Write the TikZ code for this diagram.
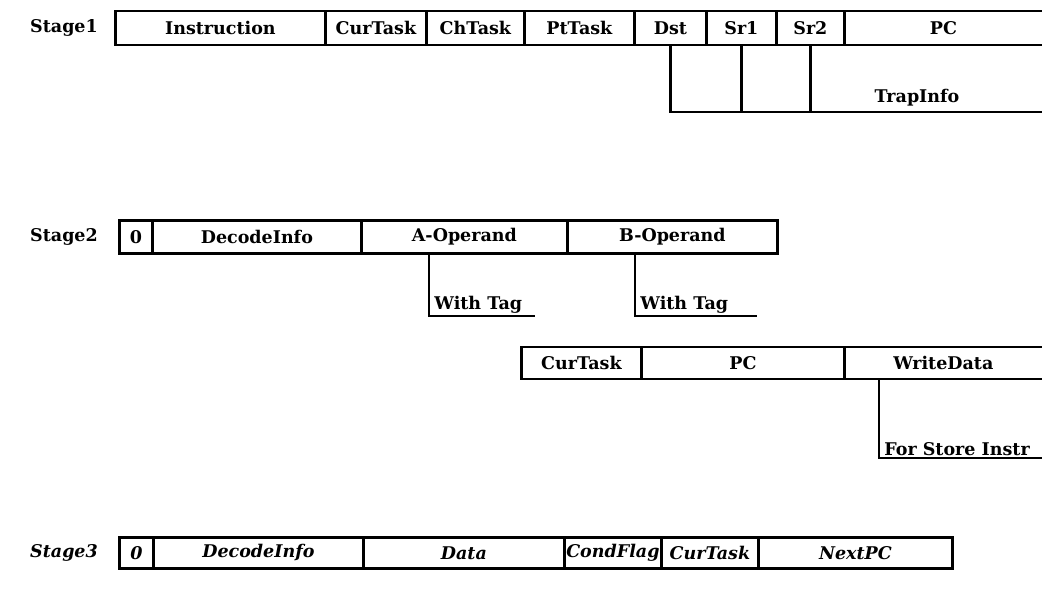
\documentclass[tikz,border=0pt]{standalone}
\usepackage{fontspec}
\setmainfont{DejaVu Serif}
\begin{document}
\begin{tikzpicture}[x=1pt,y=-1pt,line width=2.8pt,
  cell/.style={draw,rectangle,inner sep=0pt,anchor=west,font=\fieldfont},
  lbl/.style={inner sep=0pt,font=\fieldfont},
  lbltag/.style={inner sep=1pt,anchor=south west,font=\fieldfont}]
\newcommand{\fieldfont}{\fontsize{17.5}{20}\selectfont\bfseries}
\newcommand{\slfont}{\fontsize{17.5}{20}\selectfont\bfseries\itshape}
\path[use as bounding box] (0,0) rectangle (1042,594);
\clip (0,0) rectangle (1042,594);
% Stage 1
\node[lbl] (s1) at (64,28) {Stage1};
\node[cell,minimum width=210pt,minimum height=34pt] (instr) at (114,28) {Instruction};
\node[cell,minimum width=101pt,minimum height=34pt] (ct1) at (324,28) {CurTask};
\node[cell,minimum width=98pt,minimum height=34pt] (cht) at (425,28) {ChTask};
\node[cell,minimum width=110pt,minimum height=34pt] (ptt) at (523,28) {PtTask};
\node[cell,minimum width=72pt,minimum height=34pt] (dst) at (633,28) {Dst};
\node[cell,minimum width=70pt,minimum height=34pt] (sr1) at (705,28) {Sr1};
\node[cell,minimum width=68pt,minimum height=34pt] (sr2) at (775,28) {Sr2};
\node[cell,minimum width=240pt,minimum height=34pt] (pc1) at (843,28) {\hspace*{-42pt}PC};
\coordinate (trapend) at (1060,112);
\node[lbl] (trap) at (917,98) {TrapInfo};
\draw (dst.south) -- (dst.south |- trapend) -- (trapend);
\draw (sr1.south) -- (sr1.south |- trapend);
\draw (sr2.south) -- (sr2.south |- trapend);
% Stage 2
\node[lbl] (s2) at (64,237) {Stage2};
\node[cell,minimum width=33pt,minimum height=33pt] (z2) at (118,237) {0};
\node[cell,minimum width=209pt,minimum height=33pt] (dec2) at (151,237) {DecodeInfo};
\node[cell,minimum width=206pt,minimum height=33pt] (aop) at (360,237) {A-Operand};
\node[cell,minimum width=210pt,minimum height=33pt] (bop) at (566,237) {B-Operand};
\node[lbltag] (wta) at (429,316) {\hspace*{3pt}With Tag\hspace*{10pt}};
\node[lbltag] (wtb) at (635,316) {\hspace*{3pt}With Tag\hspace*{26pt}};
\draw (wta.south west |- aop.south) -- (wta.south west) -- (wta.south east);
\draw (wtb.south west |- bop.south) -- (wtb.south west) -- (wtb.south east);
% Middle row
\node[cell,minimum width=120pt,minimum height=32pt] (ct3) at (520,363) {CurTask};
\node[cell,minimum width=203pt,minimum height=32pt] (pc3) at (640,363) {PC};
\node[cell,minimum width=240pt,minimum height=32pt] (wd) at (843,363) {\hspace*{-42pt}WriteData};
\node[lbltag] (fsi) at (879,458) {\hspace*{3pt}For Store Instr};
\draw (fsi.south west |- wd.south) -- (fsi.south west) -- ++(200,0);
% Stage 3
\node[lbl,font=\slfont] (s3) at (64,553) {Stage3};
\node[cell,font=\slfont,minimum width=34pt,minimum height=31pt] (z4) at (118,553) {0};
\node[cell,font=\slfont,minimum width=210pt,minimum height=31pt] (dec4) at (152,553) {DecodeInfo};
\node[cell,font=\slfont,minimum width=201pt,minimum height=31pt] (data) at (362,553) {Data};
\node[cell,font=\slfont,minimum width=97pt,minimum height=31pt] (cf) at (563,553) {CondFlag};
\node[cell,font=\slfont,minimum width=97pt,minimum height=31pt] (ct4) at (660,553) {CurTask};
\node[cell,font=\slfont,minimum width=194pt,minimum height=31pt] (npc) at (757,553) {NextPC};
\end{tikzpicture}
\end{document}
